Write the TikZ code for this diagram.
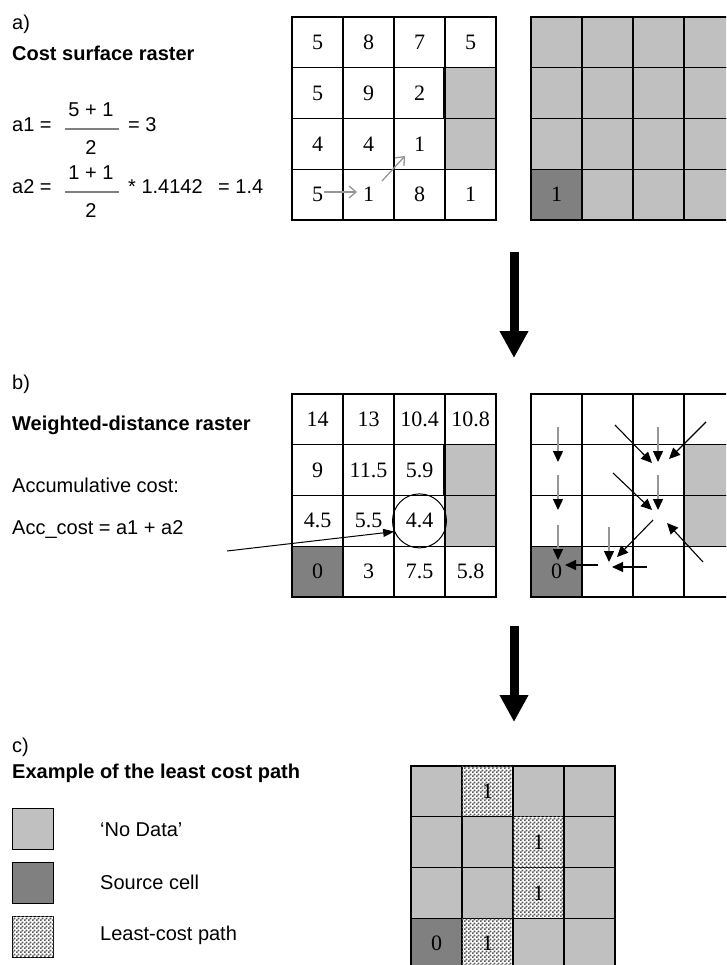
\documentclass[tikz,border=0pt]{standalone}
\usepackage{fontspec}
\setmainfont{Liberation Serif}
\setsansfont{Liberation Sans}
\usetikzlibrary{arrows.meta,patterns}
\definecolor{nodatac}{RGB}{192,192,192}
\definecolor{srcc}{RGB}{128,128,128}
\definecolor{hintc}{RGB}{150,150,150}
\pgfdeclarepatternformonly{finecheck}{\pgfpointorigin}{\pgfqpoint{4pt}{4pt}}{\pgfqpoint{4pt}{4pt}}{%
  \pgfpathrectangle{\pgfpointorigin}{\pgfqpoint{2pt}{2pt}}%
  \pgfpathrectangle{\pgfqpoint{2pt}{2pt}}{\pgfqpoint{2pt}{2pt}}%
  \pgfusepath{fill}}

\begin{document}
\begin{tikzpicture}[x=1pt,y=-1pt,>=Latex,
  cell/.style={draw,line width=1.1pt,minimum width=51pt,minimum height=50.75pt,inner sep=0pt,font=\fontsize{22}{26}\selectfont},
  plain/.style={fill=white},
  nodata/.style={fill=nodatac},
  srccell/.style={fill=srcc},
  lcpath/.style={fill=white,postaction={pattern=finecheck,pattern color=black!65}},
  keybox/.style={draw,line width=1.2pt,minimum size=41pt,inner sep=0pt,anchor=north west},
  lbl/.style={anchor=west,inner sep=0pt,font=\sffamily\fontsize{20}{23}\selectfont},
  hdr/.style={lbl,font=\sffamily\bfseries\fontsize{20}{23}\selectfont},
  hint/.style={hintc,line width=1.3pt,-{Straight Barb[length=7pt,width=12pt]}},
  flow/.style={line width=1.1pt,-{Triangle[length=11pt,width=10pt]}},
  flowv/.style={hintc,line width=1.4pt,-{Triangle[length=11pt,width=10pt,color=black]}},
  bigarr/.style={line width=9pt,-{Triangle[length=27pt,width=27pt]}}]
% page (726 x 965)
\useasboundingbox (0,0) rectangle (726,965);
\clip (0,0) rectangle (726,965);
\fill[white] (0,0) rectangle (726,965);

% a) cost surface raster
\node[lbl] (la) at (12,24) {a)};
\node[hdr] (ha) at (12,53) {Cost surface raster};
\node[lbl] (a1) at (12,125) {a1 =};
\node[lbl,anchor=center] (a1n) at (91,110) {5 + 1};
\node[lbl,anchor=center] (a1d) at (91,148) {2};
\draw[gray,line width=1.3pt] (65,129) -- (119,129);
\node[lbl] (a1r) at (128,125) {= 3};
\node[lbl] (a2) at (12,187) {a2 =};
\node[lbl,anchor=center] (a2n) at (91,173) {1 + 1};
\node[lbl,anchor=center] (a2d) at (91,211) {2};
\draw[gray,line width=1.3pt] (65,192) -- (119,192);
\node[lbl] (a2m) at (128,187) {* 1.4142};
\node[lbl] (a2r) at (218,187) {= 1.4};

\foreach \v/\s [count=\k from 0] in {5/plain,8/plain,7/plain,5/plain,5/plain,9/plain,2/plain,{}/nodata,
    4/plain,4/plain,1/plain,{}/nodata,5/plain,1/plain,8/plain,1/plain}{
  \pgfmathtruncatemacro\row{\k/4+1}
  \pgfmathtruncatemacro\col{mod(\k,4)+1}
  \node[cell,\s] (cs-\row-\col) at (266.5+51*\col,-8.375+50.75*\row) {\v};
}
\draw[line width=2.2pt] (cs-2-4.north west) -- (cs-2-4.south west);
\coordinate (h1s) at (324,192); \coordinate (h1e) at (357,192);
\coordinate (h2s) at (382,181); \coordinate (h2e) at (405,156);
\draw[hint] (h1s) -- (h1e);
\draw[hint] (h2s) -- (h2e);

% source raster
\foreach \v/\s [count=\k from 0] in {{}/nodata,{}/nodata,{}/nodata,{}/nodata,{}/nodata,{}/nodata,{}/nodata,{}/nodata,
    {}/nodata,{}/nodata,{}/nodata,{}/nodata,1/srccell,{}/nodata,{}/nodata,{}/nodata}{
  \pgfmathtruncatemacro\row{\k/4+1}
  \pgfmathtruncatemacro\col{mod(\k,4)+1}
  \node[cell,\s] (sr-\row-\col) at (505.5+51*\col,-8.375+50.75*\row) {\v};
}

% step arrows
\coordinate (arr1s) at (514,252); \coordinate (arr1e) at (514,358);
\coordinate (arr2s) at (514,626); \coordinate (arr2e) at (514,722);
\draw[bigarr] (arr1s) -- (arr1e);
\draw[bigarr] (arr2s) -- (arr2e);

% b) weighted-distance raster
\node[lbl] (lb) at (12,384) {b)};
\node[hdr] (hb) at (12,425) {Weighted-distance raster};
\node[lbl] (acc) at (12,485) {Accumulative cost:};
\node[lbl] (accf) at (12,530) {Acc\_cost = a1 + a2};

\foreach \v/\s [count=\k from 0] in {14/plain,13/plain,10.4/plain,10.8/plain,9/plain,11.5/plain,5.9/plain,{}/nodata,
    4.5/plain,5.5/plain,4.4/plain,{}/nodata,0/srccell,3/plain,7.5/plain,5.8/plain}{
  \pgfmathtruncatemacro\row{\k/4+1}
  \pgfmathtruncatemacro\col{mod(\k,4)+1}
  \node[cell,\s] (wd-\row-\col) at (266.5+51*\col,368.625+50.75*\row) {\v};
}
\draw[line width=2.2pt] (wd-2-4.north west) -- (wd-2-4.south west);
\node[circle,draw,line width=1pt,minimum size=54pt] (hit) at (wd-3-3) {};
\coordinate (accfrom) at (227,551);
\draw[line width=1pt,-{Triangle[length=11pt,width=8pt]}] (accfrom) -- (hit.203);

% direction raster
\foreach \v/\s [count=\k from 0] in {{}/plain,{}/plain,{}/plain,{}/plain,{}/plain,{}/plain,{}/plain,{}/nodata,
    {}/plain,{}/plain,{}/plain,{}/nodata,0/srccell,{}/plain,{}/plain,{}/plain}{
  \pgfmathtruncatemacro\row{\k/4+1}
  \pgfmathtruncatemacro\col{mod(\k,4)+1}
  \node[cell,\s] (dr-\row-\col) at (505.5+51*\col,368.625+50.75*\row) {\v};
}
\foreach \n/\x/\y in {va/558/427,vb/558/462,vc/558/475,vd/558/510,ve/558/525,vf/558/560,
    vg/658/427,vh/658/462,vi/658/475,vj/658/510,vk/609/527,vl/609/562}
  \coordinate (\n) at (\x,\y);
\foreach \n/\x/\y in {da/615/425,db/652/463,dc/706/422,dd/669/459,de/613/473,df/652/510,
    dg/653/520,dh/617/557,di/703/562,dj/667/523,dk/647/567,dl/612/567,dm/598/565,dn/565/565}
  \coordinate (\n) at (\x,\y);
\foreach \a/\b in {va/vb,vc/vd,ve/vf,vg/vh,vi/vj,vk/vl}
  \draw[flowv] (\a) -- (\b);
\foreach \a/\b in {da/db,dc/dd,de/df,dg/dh,di/dj,dk/dl,dm/dn}
  \draw[flow] (\a) -- (\b);

% c) least cost path
\node[lbl] (lc) at (12,747) {c)};
\node[hdr] (hc) at (12,773) {Example of the least cost path};
\node[keybox,nodata] (k-nd) at (12,808) {};
\node[keybox,srccell] (k-sc) at (12,862) {};
\node[keybox,lcpath] (k-lc) at (12,916) {};
\node[lbl] (t-nd) at (100,830) {`No Data'};
\node[lbl] (t-sc) at (100,882) {Source cell};
\node[lbl] (t-lc) at (100,935) {Least-cost path};

\foreach \v/\s [count=\k from 0] in {{}/nodata,1/lcpath,{}/nodata,{}/nodata,{}/nodata,{}/nodata,1/lcpath,{}/nodata,
    {}/nodata,{}/nodata,1/lcpath,{}/nodata,0/srccell,1/lcpath,{}/nodata,{}/nodata}{
  \pgfmathtruncatemacro\row{\k/4+1}
  \pgfmathtruncatemacro\col{mod(\k,4)+1}
  \node[cell,\s] (lp-\row-\col) at (385.5+51*\col,740.625+50.75*\row) {\v};
}
\end{tikzpicture}
\end{document}
